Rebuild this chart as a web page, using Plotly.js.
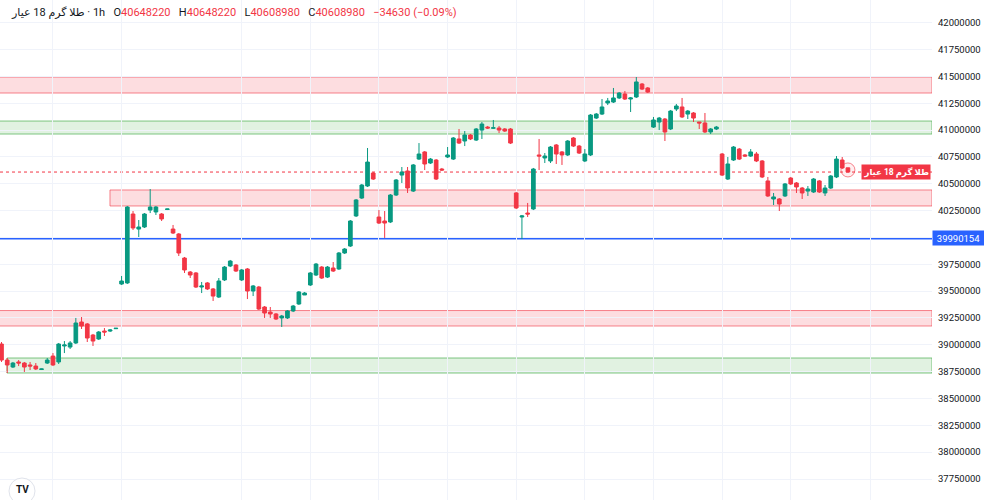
<!DOCTYPE html>
<html><head><meta charset="utf-8">
<script src="https://cdn.plot.ly/plotly-3.0.1.min.js"></script>
<style>html,body{margin:0;padding:0;background:#fff;}#chart{width:984px;height:500px;}</style>
</head><body><div id="chart"></div>
<script>
const symbolName = 'طلا گرم 18 عیار';
const interval = '1h';
const ohlcLetters = ['O', 'H', 'L', 'C'];
const ohlcValues = ['40648220', '40648220', '40608980', '40608980'];
const changeText = '−34630 (−0.09%)';

const open = [
39007000,38858000,38793000,38840000,38830000,38812000,38802000,38770000,38830000,38895000,
38840000,38989000,38979000,39017000,39212000,39194000,39091000,39054000,39128000,39128000,
39150000,39566000,39576000,40218000,40078000,40097000,40255000,40237000,40218000,40260000,
40078000,40032000,39808000,39678000,39669000,39538000,39576000,39520000,39445000,39604000,
39734000,39743000,39604000,39706000,39501000,39538000,39352000,39305000,39287000,39250000,
39250000,39315000,39380000,39464000,39557000,39650000,39724000,39631000,39715000,39706000,
39855000,39920000,40200000,40367000,40479000,40600000,40190000,40153000,40144000,40395000,
40581000,40619000,40432000,40730000,40796000,40693000,40721000,40637000,40749000,40730000,
40917000,40898000,40954000,40907000,41000000,41028000,41017000,41019000,41010000,41010000,
40414000,40190000,40227000,40265000,40768000,40740000,40712000,40861000,40796000,40768000,
40926000,40851000,40712000,40768000,41112000,41149000,41252000,41261000,41299000,41336000,
41289000,41308000,41429000,41392000,41028000,41075000,41103000,41010000,41196000,41215000,
41149000,41159000,41075000,41066000,40982000,41010000,40777000,40544000,40721000,40823000,
40768000,40758000,40777000,40712000,40526000,40358000,40358000,40386000,40553000,40507000,
40460000,40432000,40423000,40526000,40414000,40460000,40563000,40721000,40648220];
const high = [
39026000,38877000,38840000,38858000,38840000,38840000,38830000,38778000,38877000,38923000,
39017000,39035000,39035000,39250000,39259000,39203000,39101000,39128000,39156000,39147000,
39156000,39641000,40293000,40246000,40162000,40227000,40451000,40293000,40227000,40267000,
40116000,40041000,39818000,39687000,39678000,39585000,39585000,39529000,39622000,39734000,
39790000,39752000,39706000,39715000,39557000,39548000,39361000,39352000,39296000,39278000,
39324000,39371000,39501000,39492000,39678000,39762000,39734000,39734000,39771000,39864000,
39901000,40162000,40358000,40498000,40833000,40609000,40255000,40246000,40404000,40544000,
40656000,40656000,40684000,40879000,40805000,40740000,40730000,40647000,40842000,40935000,
41010000,40991000,40963000,41019000,41075000,41038000,41094000,41038000,41019000,41019000,
40423000,40209000,40321000,40647000,40917000,40786000,40851000,40870000,40805000,40907000,
40935000,40861000,40823000,41149000,41159000,41289000,41299000,41392000,41354000,41364000,
41308000,41494000,41438000,41401000,41122000,41122000,41112000,41187000,41243000,41299000,
41187000,41168000,41075000,41159000,41019000,41038000,40786000,40749000,40851000,40833000,
40777000,40823000,40796000,40721000,40563000,40414000,40367000,40507000,40563000,40516000,
40470000,40479000,40553000,40535000,40488000,40581000,40758000,40749000,40648220];
const low = [
38840000,38737000,38784000,38802000,38747000,38765000,38765000,38765000,38821000,38802000,
38821000,38923000,38961000,39007000,39147000,39026000,38989000,39045000,39082000,39119000,
39147000,39557000,39566000,40069000,40004000,40088000,40227000,40209000,40153000,40255000,
40032000,39827000,39669000,39622000,39529000,39482000,39510000,39408000,39436000,39594000,
39724000,39678000,39594000,39426000,39454000,39324000,39250000,39250000,39231000,39166000,
39240000,39305000,39371000,39464000,39548000,39641000,39613000,39622000,39678000,39697000,
39846000,39911000,40190000,40358000,40470000,40535000,40125000,39995000,40134000,40386000,
40507000,40414000,40423000,40721000,40628000,40684000,40535000,40619000,40740000,40721000,
40870000,40851000,40907000,40898000,40917000,41010000,41010000,40972000,40982000,40870000,
40265000,39985000,40190000,40255000,40628000,40693000,40693000,40684000,40675000,40758000,
40842000,40777000,40702000,40758000,41103000,41140000,41233000,41252000,41289000,41280000,
41168000,41299000,41373000,41345000,41019000,41000000,40898000,41000000,41177000,41112000,
41103000,41075000,41010000,40972000,40963000,41000000,40572000,40535000,40712000,40721000,
40749000,40749000,40702000,40553000,40377000,40302000,40246000,40377000,40488000,40414000,
40358000,40386000,40414000,40414000,40386000,40451000,40553000,40637000,40608980];
const close = [
38858000,38812000,38830000,38830000,38793000,38802000,38775000,38775000,38858000,38812000,
39007000,38998000,39017000,39203000,39175000,39063000,39035000,39119000,39119000,39138000,
39154000,39594000,40283000,40088000,40097000,40218000,40283000,40283000,40172000,40265000,
40041000,39855000,39697000,39650000,39538000,39548000,39520000,39454000,39594000,39724000,
39780000,39687000,39697000,39501000,39548000,39333000,39296000,39287000,39240000,39268000,
39315000,39361000,39492000,39482000,39669000,39752000,39622000,39724000,39687000,39855000,
39892000,40153000,40349000,40488000,40702000,40544000,40134000,40134000,40395000,40535000,
40609000,40460000,40675000,40777000,40684000,40730000,40544000,40628000,40768000,40926000,
40879000,40954000,40917000,41010000,41056000,41019000,41021000,41000000,40991000,40879000,
40274000,40200000,40218000,40637000,40758000,40758000,40842000,40777000,40768000,40898000,
40851000,40786000,40777000,41140000,41149000,41215000,41271000,41299000,41345000,41289000,
41299000,41448000,41382000,41354000,41094000,41112000,40982000,41177000,41224000,41122000,
41177000,41112000,41066000,40982000,41010000,41028000,40581000,40684000,40842000,40730000,
40758000,40796000,40712000,40563000,40386000,40377000,40311000,40498000,40498000,40470000,
40414000,40451000,40544000,40423000,40460000,40572000,40730000,40647000,40608980];

const priceTicks = [37750000,38000000,38250000,38500000,38750000,39000000,39250000,39500000,
  39750000,40000000,40250000,40500000,40750000,41000000,41250000,41500000,41750000,42000000];
const gridSlots = [9, 21, 42, 54, 66, 78, 90, 102, 114, 126, 138, 152];

const zoneTop    = [41494000, 41084000, 40442000, 39319000, 38877000];
const zoneBottom = [41345000, 40963000, 40293000, 39175000, 38737000];
const zoneStart  = [null, null, 18.97, null, 0.96];
const zoneKind   = ['res', 'sup', 'res', 'res', 'sup'];
const markLevel = 39990154;

const slot = close.map((_, i) => i);
const lastIdx = slot[slot.length - 1];
const lastClose = close[close.length - 1];
const lastOpen = open[open.length - 1];
const xRange = [-0.26, 162.7];
const yRange = [37554400, 42211400];

const RED = '#f23645', GREEN = '#089981', BLUE = '#2962ff', TXT = '#131722';
const FONT = "Roboto, 'DejaVu Sans', sans-serif";
const LRM = '\u200E';

const trace = {
  type: 'candlestick', x: slot, open: open, high: high, low: low, close: close,
  increasing: {line: {color: GREEN, width: 1}, fillcolor: GREEN},
  decreasing: {line: {color: RED, width: 1}, fillcolor: RED},
  whiskerwidth: 0, hoverinfo: 'skip', showlegend: false
};

const shapes = [];
zoneTop.forEach((top, i) => {
  const res = zoneKind[i] === 'res';
  shapes.push({
    type: 'rect', xref: 'x', yref: 'y', layer: 'below',
    x0: zoneStart[i] === null ? xRange[0] - 2 : zoneStart[i], x1: xRange[1],
    y0: zoneBottom[i], y1: top,
    fillcolor: res ? 'rgba(242,54,69,0.17)' : 'rgba(76,175,80,0.17)',
    line: {color: res ? 'rgba(242,54,69,0.6)' : 'rgba(76,175,80,0.7)', width: 1}
  });
});
shapes.push({type: 'line', xref: 'paper', yref: 'y', x0: 0, x1: 1, y0: markLevel, y1: markLevel,
  line: {color: BLUE, width: 2}, layer: 'below'});
shapes.push({type: 'line', xref: 'paper', yref: 'y', x0: 0, x1: 1, y0: lastClose, y1: lastClose,
  line: {color: RED, width: 1, dash: 'dot'}, layer: 'below'});
shapes.push({type: 'circle', xref: 'x', yref: 'y', xsizemode: 'pixel', ysizemode: 'pixel',
  xanchor: lastIdx, yanchor: (lastOpen + lastClose) / 2, x0: -7, x1: 7, y0: -7, y1: 7,
  fillcolor: 'rgba(242,54,69,0.08)', line: {color: 'rgba(242,54,69,0.6)', width: 1}});
shapes.push({type: 'circle', xref: 'paper', yref: 'paper', xsizemode: 'pixel', ysizemode: 'pixel',
  xanchor: 22 / 932, yanchor: 9 / 500, x0: -13, x1: 13, y0: -13, y1: 13,
  fillcolor: '#ffffff', line: {color: '#e0e3eb', width: 1}});

const headerParts = [LRM + symbolName + LRM + ' · ' + interval];
ohlcLetters.forEach((l, i) => headerParts.push(l + '<span style="color:' + RED + '">' + ohlcValues[i] + '</span>'));
headerParts.push('<span style="color:' + RED + '">' + changeText + '</span>');

const annotations = [
  {xref: 'paper', yref: 'paper', x: 0, y: 1, xanchor: 'left', yanchor: 'top', xshift: 9, yshift: -4,
   showarrow: false, text: headerParts.join('\u2002 '), font: {family: FONT, size: 11, color: TXT}},
  {xref: 'paper', yref: 'y', x: 1, y: markLevel, xanchor: 'left', yanchor: 'middle', showarrow: false,
   text: String(markLevel), bgcolor: BLUE, width: 48, borderpad: 1.5, font: {family: FONT, size: 9.5, color: '#ffffff'}},
  {xref: 'paper', yref: 'y', x: 1, y: lastClose, xanchor: 'right', yanchor: 'middle', xshift: -1, showarrow: false,
   text: '<b>' + symbolName + '</b>', bgcolor: RED, borderpad: 1.5, font: {family: FONT, size: 8.5, color: '#ffffff'}},
  {xref: 'paper', yref: 'paper', x: 22 / 932, y: 0, xanchor: 'center', yanchor: 'bottom', yshift: 3, showarrow: false,
   text: '<b>TV</b>', font: {family: FONT, size: 10, color: TXT}}
];

const layout = {
  width: 984, height: 500, margin: {l: 0, r: 52, t: 0, b: 0},
  paper_bgcolor: '#ffffff', plot_bgcolor: '#ffffff',
  boxgap: 0.2, boxgroupgap: 0.2,
  xaxis: {range: xRange, rangeslider: {visible: false}, showticklabels: false, ticks: '',
    tickmode: 'array', tickvals: gridSlots, showgrid: true, gridcolor: '#f0f3fa', zeroline: false, showline: false},
  yaxis: {side: 'right', range: yRange, tickmode: 'array', tickvals: priceTicks, ticktext: priceTicks.map(String),
    showgrid: true, gridcolor: '#f0f3fa', zeroline: false, showline: false, ticks: '', ticklabelstandoff: 5,
    tickfont: {family: FONT, size: 9.5, color: TXT}},
  shapes: shapes, annotations: annotations, hovermode: false
};

Plotly.newPlot('chart', [trace], layout, {displayModeBar: false, staticPlot: true});
</script></body></html>
